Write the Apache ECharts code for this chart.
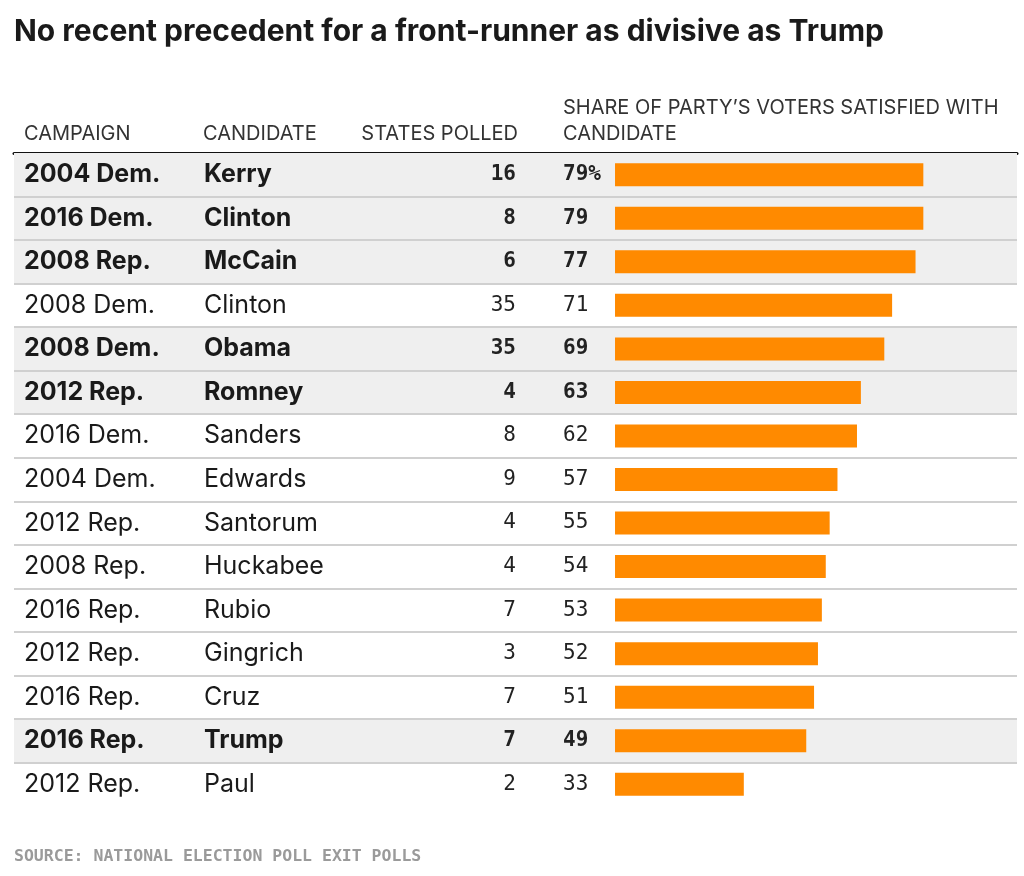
<!DOCTYPE html>
<html><head><meta charset="utf-8">
<script src="https://cdn.jsdelivr.net/npm/echarts@6/dist/echarts.min.js"></script>
<style>html,body{margin:0;padding:0;background:#fff}#c{width:1024px;height:876px}</style>
</head><body><div id="c"></div>
<script>
const campaigns = ['2004 Dem.','2016 Dem.','2008 Rep.','2008 Dem.','2008 Dem.','2012 Rep.','2016 Dem.','2004 Dem.','2012 Rep.','2008 Rep.','2016 Rep.','2012 Rep.','2016 Rep.','2016 Rep.','2012 Rep.'];
const candidates = ['Kerry','Clinton','McCain','Clinton','Obama','Romney','Sanders','Edwards','Santorum','Huckabee','Rubio','Gingrich','Cruz','Trump','Paul'];
const statesPolled = [16,8,6,35,35,4,8,9,4,4,7,3,7,7,2];
const satisfied = [79,79,77,71,69,63,62,57,55,54,53,52,51,49,33];
const frontRunner = [true,true,true,false,true,true,false,false,false,false,false,false,false,true,false];
const headers = ['CAMPAIGN','CANDIDATE','STATES POLLED','SHARE OF PARTY\u2019S VOTERS SATISFIED WITH','CANDIDATE'];
const titleText = 'No recent precedent for a front-runner as divisive as Trump';
const sourceText = 'SOURCE: NATIONAL ELECTION POLL EXIT POLLS';

const rowKeys = campaigns.map((c, i) => c + ' ' + candidates[i]);
// row boundaries (n + 1 points) used for the separator lines
const boundaries = ['top'].concat(rowKeys);
const idx = k => rowKeys.indexOf(k);

const SANS = 'Inter, Roboto, "Liberation Sans", sans-serif';
const MONO = '"DejaVu Sans Mono", "Liberation Mono", monospace';

function richSans() {
  return {
    b: { fontFamily: SANS, fontSize: 25, fontWeight: 'bold', color: '#1a1a1a' },
    r: { fontFamily: SANS, fontSize: 25, fontWeight: 'normal', color: '#1a1a1a' }
  };
}
function richMono() {
  return {
    b: { fontFamily: MONO, fontSize: 21, fontWeight: 'bold', color: '#222' },
    r: { fontFamily: MONO, fontSize: 21, fontWeight: 'normal', color: '#222' }
  };
}
function wrap(i, t) { return '{' + (frontRunner[i] ? 'b' : 'r') + '|' + t + '}'; }

function catAxis(opts) {
  return Object.assign({
    type: 'category', data: rowKeys, inverse: true, position: 'left', z: 3,
    axisLine: { show: false }, axisTick: { show: false }, splitLine: { show: false }
  }, opts);
}

const chart = echarts.init(document.getElementById('c'), null, { renderer: 'canvas' });
chart.setOption({
  backgroundColor: '#fff',
  animation: false,
  title: {
    text: titleText, left: 14, top: 17, padding: 0,
    textStyle: { fontFamily: SANS, fontSize: 30, fontWeight: 'bold', color: '#1a1a1a' }
  },
  grid: { left: 14, right: 7, top: 153, bottom: 70, containLabel: false, outerBoundsMode: 'none' },
  xAxis: [
    { type: 'value', min: -154, max: 103, position: 'top', show: true,
      axisLine: { show: true, onZero: false, lineStyle: { color: '#111', width: 3 } },
      axisTick: { show: false }, axisLabel: { show: false }, splitLine: { show: false } },
    { type: 'value', min: 0, max: 1, show: false }
  ],
  yAxis: [
    catAxis({ axisLabel: { inside: true, margin: 10, align: 'left', interval: 0,
        formatter: v => wrap(idx(v), campaigns[idx(v)]), rich: richSans() } }),
    catAxis({ axisLabel: { inside: true, margin: 190, align: 'left', interval: 0,
        formatter: v => wrap(idx(v), candidates[idx(v)]), rich: richSans() } }),
    catAxis({ axisLabel: { inside: true, margin: 502, align: 'right', interval: 0,
        formatter: v => wrap(idx(v), String(statesPolled[idx(v)])), rich: richMono() } }),
    catAxis({ axisLabel: { inside: true, margin: 549, align: 'left', interval: 0,
        formatter: v => wrap(idx(v), satisfied[idx(v)] + (idx(v) === 0 ? '%' : '')), rich: richMono() } }),
    { type: 'category', data: boundaries, boundaryGap: false, inverse: true, position: 'left', z: 3,
      axisLine: { show: false }, axisTick: { show: false }, axisLabel: { show: false },
      splitLine: { show: true, lineStyle: { color: '#d0d0d0', width: 2 },
        interval: function (i) { return i > 0 && i < boundaries.length - 1; } } }
  ],
  series: [
    { type: 'bar', xAxisIndex: 1, yAxisIndex: 1, barWidth: 43.6, silent: true, z: 1,
      itemStyle: { color: '#efefef' },
      data: frontRunner.map(f => f ? 1 : 0) },
    { type: 'bar', xAxisIndex: 0, yAxisIndex: 0, barWidth: 23, z: 4,
      itemStyle: { color: '#ff8a00' },
      data: satisfied }
  ],
  graphic: [
    { type: 'text', left: 24, top: 124, style: { text: headers[0], font: '20px ' + SANS, fill: '#333' } },
    { type: 'text', left: 203, top: 124, style: { text: headers[1], font: '20px ' + SANS, fill: '#333' } },
    { type: 'text', right: 1024 - 518, top: 124, style: { text: headers[2], font: '20px ' + SANS, fill: '#333' } },
    { type: 'text', left: 563, top: 98, style: { text: headers[3], font: '20px ' + SANS, fill: '#333' } },
    { type: 'text', left: 563, top: 124, style: { text: headers[4], font: '20px ' + SANS, fill: '#333' } },
    { type: 'text', left: 14, top: 848, style: { text: sourceText, font: 'bold 16.5px ' + MONO, fill: '#9a9a9a' } }
  ]
});
</script></body></html>
